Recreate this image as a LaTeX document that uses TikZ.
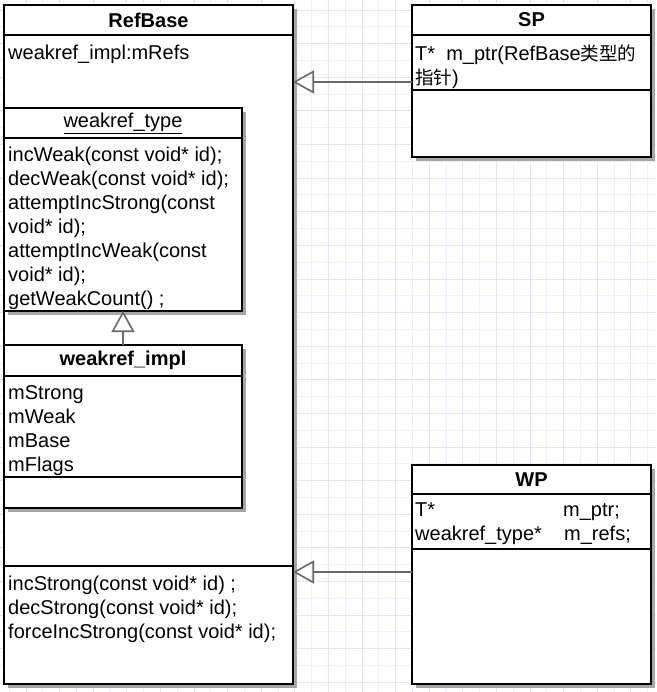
\documentclass[tikz,border=0pt]{standalone}
\usepackage{fontspec}
\setmainfont{Liberation Sans}
\newfontfamily\zhfont{Noto Sans CJK SC}
\newcommand\zhtext{\zhfont\fontsize{18.5}{24}\selectfont}
\usetikzlibrary{positioning, arrows.meta, shadows}
\definecolor{gridmajor}{RGB}{226,226,248}
\definecolor{gridminor}{RGB}{238,238,252}
\definecolor{linkgray}{RGB}{105,105,105}
\tikzstyle{classbox} = [draw=black, line width=2.6pt, fill=white,
  anchor=north west, inner sep=0pt, outer sep=0pt,
  drop shadow={shadow xshift=4pt, shadow yshift=-4pt, fill=black!35, opacity=1}]
\tikzstyle{part} = [draw=black, line width=2.6pt, anchor=north west,
  inner sep=0pt, outer sep=0pt, font=\fontsize{20}{24}\selectfont]
\tikzstyle{title} = [part, font=\bfseries\fontsize{20}{24}\selectfont]
\tikzstyle{members} = [anchor=north west, align=left, inner sep=0pt,
  font=\fontsize{20}{24}\selectfont]
\tikzstyle{inherit} = [-{Triangle[open, length=21pt, width=23pt]},
  draw=linkgray, line width=1.6pt]

\begin{document}
\begin{tikzpicture}[x=1pt, y=-1pt]
  \useasboundingbox (0,0) rectangle (656,692);
  % background grid
  \foreach \x in {9.1,42.7,...,656} \draw[gridminor, line width=0.8pt] (\x,0) -- (\x,692);
  \foreach \y in {26.9,60.5,...,692} \draw[gridminor, line width=0.8pt] (0,\y) -- (656,\y);
  \foreach \x in {25.9,59.5,...,656} \draw[gridmajor, line width=0.8pt] (\x,0) -- (\x,692);
  \foreach \y in {10.1,43.7,...,692} \draw[gridmajor, line width=0.8pt] (0,\y) -- (656,\y);

  % RefBase
  \node[classbox, minimum width=289pt, minimum height=679pt] (refbase-box) at (4,5) {};
  \node[title, minimum width=289pt, minimum height=30pt]  (refbase)      at (4,5)   {RefBase};
  \node[part, minimum width=289pt, minimum height=531pt]  (refbase-attr) at (4,35)  {};
  \node[part, minimum width=289pt, minimum height=118pt]  (refbase-ops)  at (4,566) {};
  \node[members, below right=10pt and 4pt of refbase-attr.north west] (refbase-attr-text)
    {weakref\_impl:mRefs};
  \node[members, below right=10pt and 4pt of refbase-ops.north west] (refbase-ops-text)
    {incStrong(const void* id) ;\\decStrong(const void* id);\\forceIncStrong(const void* id);};

  % weakref_type
  \node[classbox, minimum width=238pt, minimum height=203pt] (type-box) at (4,108) {};
  \node[part, minimum width=238pt, minimum height=30pt]  (type)     at (4,108) {\underline{weakref\_type}};
  \node[part, minimum width=238pt, minimum height=173pt] (type-ops) at (4,138) {};
  \node[members, below right=9pt and 4pt of type-ops.north west] (type-ops-text)
    {incWeak(const void* id);\\decWeak(const void* id);\\attemptIncStrong(const\\void* id);\\
     attemptIncWeak(const\\void* id);\\getWeakCount() ;};

  % weakref_impl
  \node[classbox, minimum width=238pt, minimum height=163pt] (impl-box) at (4,345) {};
  \node[title, minimum width=238pt, minimum height=31pt]  (impl)      at (4,345) {weakref\_impl};
  \node[part, minimum width=238pt, minimum height=101pt]  (impl-attr) at (4,376) {};
  \node[part, minimum width=238pt, minimum height=31pt]   (impl-ops)  at (4,477) {};
  \node[members, below right=9pt and 4pt of impl-attr.north west] (impl-attr-text)
    {mStrong\\mWeak\\mBase\\mFlags};

  % SP
  \node[classbox, minimum width=239pt, minimum height=152pt] (sp-box) at (412,5) {};
  \node[title, minimum width=239pt, minimum height=30pt] (sp)      at (412,5)  {SP};
  \node[part, minimum width=239pt, minimum height=55pt]  (sp-attr) at (412,35) {};
  \node[part, minimum width=239pt, minimum height=67pt]  (sp-ops)  at (412,90) {};
  \node[members, below right=10pt and 3pt of sp-attr.north west] (sp-attr-text)
    {T*\ \ m\_ptr(RefBase{\zhtext 类型的}\\{\zhtext 指针})};

  % WP
  \node[classbox, minimum width=239pt, minimum height=219pt] (wp-box) at (412,465) {};
  \node[title, minimum width=239pt, minimum height=29pt] (wp)      at (412,465) {WP};
  \node[part, minimum width=239pt, minimum height=55pt]  (wp-attr) at (412,494) {};
  \node[part, minimum width=239pt, minimum height=135pt] (wp-ops)  at (412,549) {};
  \node[members, below right=9pt and 3pt of wp-attr.north west] (wp-attr-text)
    {\makebox[148pt][l]{T*}m\_ptr;\\\makebox[149pt][l]{weakref\_type*}m\_refs;};

  % inheritance
  \coordinate (sp-link) at (412,82);
  \coordinate (wp-link) at (412,572);
  \draw[inherit] (sp-link) -- (sp-link -| refbase-box.east);
  \draw[inherit] (wp-link) -- (wp-link -| refbase-box.east);
  \draw[inherit] (impl-box.north) -- (type-box.south);
\end{tikzpicture}
\end{document}
